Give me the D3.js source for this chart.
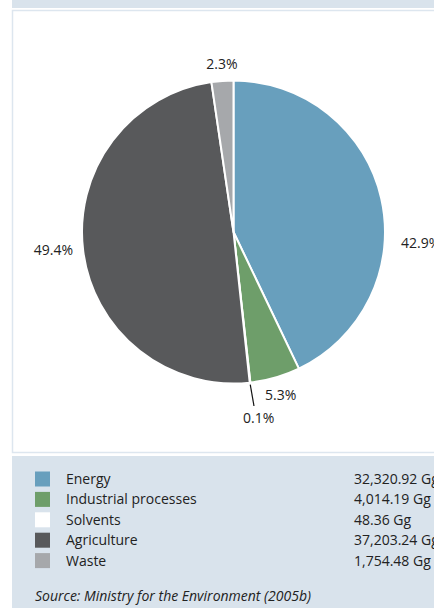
<!DOCTYPE html>
<html><head><meta charset="utf-8">
<script src="https://cdn.jsdelivr.net/npm/d3@7"></script>
<style>
html,body{margin:0;padding:0;background:#fff;}
svg{display:block;font-family:"Open Sans","Noto Sans",sans-serif;}
</style></head>
<body>
<svg id="c" width="434" height="608"></svg>
<script>
const categories = ["Energy","Industrial processes","Solvents","Agriculture","Waste"];
const values = [32320.92, 4014.19, 48.36, 37203.24, 1754.48];
const valueLabels = ["32,320.92 Gg","4,014.19 Gg","48.36 Gg","37,203.24 Gg","1,754.48 Gg"];
const pctLabels = ["42.9%","5.3%","0.1%","49.4%","2.3%"];
const colors = ["#689fbd","#6e9e6a","#ffffff","#58595b","#a6a8ab"];
const sourceText = "Source: Ministry for the Environment (2005b)";

const svg = d3.select("#c");
const bg = "#d9e3ec";
svg.append("rect").attr("x",12).attr("y",0).attr("width",422).attr("height",8).attr("fill",bg);
svg.append("rect").attr("x",12.5).attr("y",10.5).attr("width",430).attr("height",442).attr("fill","#fff").attr("stroke","#dde6ef").attr("stroke-width",1.5);
svg.append("rect").attr("x",12).attr("y",456).attr("width",422).attr("height",152).attr("fill",bg);

const cx = 233.5, cy = 232, r = 151.5;
const pie = d3.pie().sort(null).value(d=>d)(values);
const arc = d3.arc().innerRadius(0).outerRadius(r);
const g = svg.append("g").attr("transform",`translate(${cx},${cy})`);
g.selectAll("path").data(pie).join("path")
  .attr("d",arc).attr("fill",(d,i)=>colors[i])
  .attr("stroke","#fff").attr("stroke-width",2).attr("stroke-linejoin","round");

const labelPos = [[401,248,"start"],[265,400,"start"],[243,423,"start"],[73,255,"end"],[222,69,"middle"]];
svg.selectAll("text.pct").data(pctLabels).join("text").attr("class","pct")
  .attr("x",(d,i)=>labelPos[i][0]).attr("y",(d,i)=>labelPos[i][1])
  .attr("text-anchor",(d,i)=>labelPos[i][2])
  .attr("font-size",14).attr("fill","#222").text(d=>d);
const sa = pie[2];
const mid = (sa.startAngle+sa.endAngle)/2;
const p1 = [cx + Math.sin(mid)*(r+2), cy - Math.cos(mid)*(r+2)];
svg.append("line").attr("x1",p1[0]).attr("y1",p1[1]).attr("x2",254).attr("y2",406)
  .attr("stroke","#111").attr("stroke-width",1.2);

const ly = d3.scaleBand().domain(categories).range([469,571]).padding(0);
const rows = svg.append("g").selectAll("g").data(categories).join("g")
  .attr("transform",d=>`translate(0,${ly(d)})`);
rows.append("rect").attr("x",35).attr("y",2.5).attr("width",15).attr("height",15)
  .attr("fill",(d,i)=>colors[i]);
rows.append("text").attr("x",66).attr("y",15).attr("font-size",14).attr("fill","#222").text(d=>d);
rows.append("text").attr("x",354).attr("y",15).attr("font-size",14).attr("fill","#222").text((d,i)=>valueLabels[i]);
svg.append("text").attr("x",35).attr("y",601).attr("font-size",14).attr("font-style","italic").attr("fill","#222").text(sourceText);
</script>
</body></html>
